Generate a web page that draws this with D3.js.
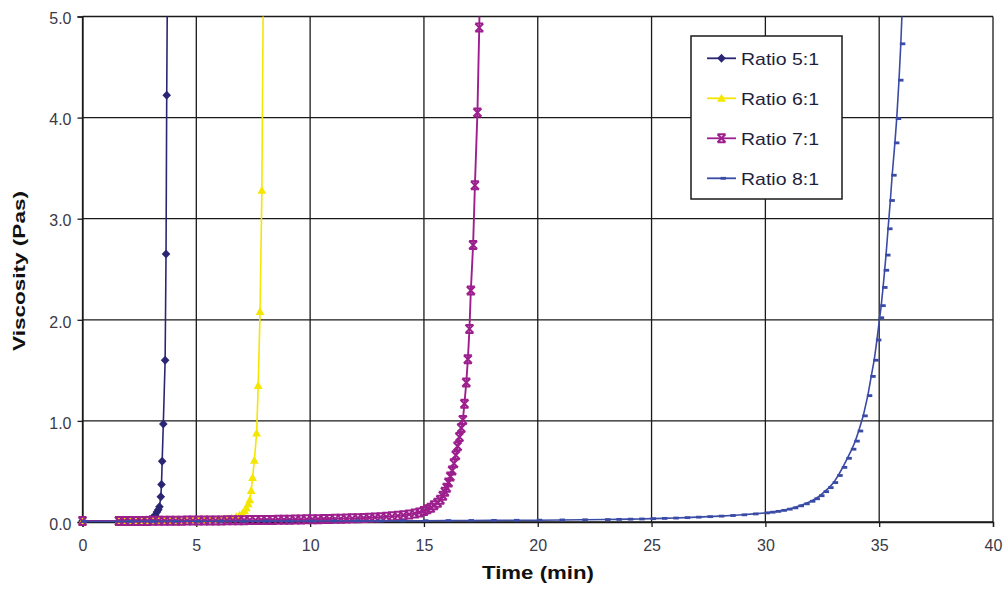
<!DOCTYPE html>
<html><head><meta charset="utf-8">
<script src="https://cdn.jsdelivr.net/npm/d3@7"></script>
<style>body{margin:0;background:#fff}svg{display:block}text{font-family:"Liberation Sans",Arial,sans-serif}</style>
</head><body><svg id="c" width="1003" height="589"></svg>
<script>
const seriesNames = ["Ratio 5:1","Ratio 6:1","Ratio 7:1","Ratio 8:1"];
const xTicks = [0,5,10,15,20,25,30,35,40];
const yTicks = [0,1,2,3,4,5];

const time51 = [0,1.6,1.75,1.9,2.05,2.2,2.35,2.5,2.65,2.8,2.95,3.05,3.13,3.20,3.27,3.33,3.38,3.44,3.47,3.50,3.55,3.63,3.67,3.70,3.76];
const visc51 = [0.01,0.01,0.01,0.011,0.012,0.013,0.014,0.015,0.017,0.02,0.025,0.035,0.05,0.07,0.10,0.12,0.15,0.25,0.37,0.60,0.97,1.60,2.65,4.22,6.40];

const time61 = [0,1.6,1.85,2.1,2.35,2.6,2.85,3.1,3.35,3.6,3.85,4.1,4.35,4.6,4.85,5.1,5.35,5.6,5.85,6.1,6.35,6.55,6.75,6.9,7.02,7.12,7.2,7.28,7.35,7.41,7.47,7.55,7.65,7.72,7.80,7.88,7.95];
const visc61 = [0.01,0.01,0.01,0.011,0.011,0.012,0.012,0.013,0.013,0.014,0.015,0.015,0.016,0.017,0.018,0.019,0.02,0.022,0.025,0.028,0.032,0.038,0.05,0.065,0.085,0.11,0.14,0.18,0.22,0.31,0.44,0.61,0.88,1.35,2.08,3.28,5.5];

const time71 = [0,1.6,1.85,2.1,2.35,2.6,2.85,3.1,3.35,3.6,3.85,4.1,4.35,4.6,4.85,5.1,5.35,5.6,5.85,6.1,6.35,6.6,6.85,7.1,7.35,7.6,7.85,8.1,8.35,8.6,8.85,9.1,9.35,9.6,9.85,10.1,10.35,10.6,10.85,11.1,11.35,11.6,11.85,12.1,12.35,12.6,12.85,13.1,13.35,13.6,13.85,14.1,14.35,14.6,14.8,15.0,15.15,15.3,15.45,15.6,15.72,15.83,15.92,16.0,16.08,16.16,16.24,16.32,16.4,16.48,16.56,16.64,16.71,16.78,16.86,16.93,17.0,17.06,17.16,17.24,17.35,17.43,17.5];
const visc71 = [0.01,0.010,0.010,0.010,0.011,0.011,0.011,0.012,0.012,0.012,0.013,0.013,0.013,0.014,0.014,0.014,0.015,0.015,0.016,0.016,0.017,0.017,0.018,0.018,0.019,0.019,0.020,0.020,0.021,0.022,0.022,0.023,0.024,0.025,0.026,0.027,0.028,0.029,0.030,0.031,0.033,0.034,0.036,0.038,0.040,0.042,0.045,0.048,0.052,0.056,0.061,0.067,0.075,0.085,0.095,0.11,0.125,0.14,0.165,0.19,0.22,0.26,0.30,0.34,0.39,0.45,0.51,0.58,0.66,0.75,0.84,0.93,1.01,1.17,1.38,1.61,1.91,2.29,2.74,3.33,4.05,4.89,5.9];

const time81 = [0,2,3,4,5,6,7,8,9,10,11,12,13,14,15,16,17,18,19,20,21,22,23,23.5,24,24.5,25,25.5,26,26.5,27,27.5,28,28.5,29,29.5,30,30.25,30.5,30.75,31,31.25,31.5,31.75,32,32.2,32.4,32.6,32.8,33,33.2,33.4,33.6,33.8,33.95,34.1,34.3,34.5,34.65,34.78,34.9,35.02,35.09,35.17,35.24,35.3,35.39,35.49,35.57,35.69,35.77,35.87,35.95,36.05];
const visc81 = [0.005,0.006,0.006,0.007,0.007,0.008,0.008,0.009,0.009,0.01,0.01,0.011,0.011,0.012,0.013,0.014,0.015,0.016,0.017,0.018,0.02,0.022,0.024,0.026,0.028,0.03,0.033,0.036,0.039,0.043,0.048,0.053,0.058,0.064,0.071,0.08,0.09,0.097,0.105,0.115,0.127,0.14,0.16,0.18,0.205,0.23,0.26,0.3,0.34,0.39,0.46,0.54,0.63,0.72,0.8,0.9,1.05,1.25,1.44,1.6,1.8,2.02,2.14,2.32,2.49,2.64,2.9,3.18,3.43,3.75,3.99,4.37,4.73,5.3];

const colors = ["#2b2674","#f5e600","#9c1f8d","#3a4ba6"];
const markers = ["diamond","triangle","star","dash"];

const svg = d3.select("#c");
const x = d3.scaleLinear([0,40],[82.5,993]);
const y = d3.scaleLinear([0,5],[522,16.5]);

// grid
const grid = svg.append("g").attr("stroke","#1a1a1a").attr("stroke-width",1.3);
grid.selectAll(".gx").data(xTicks).join("line")
  .attr("x1",d=>x(d)).attr("x2",d=>x(d)).attr("y1",y(5)).attr("y2",y(0));
grid.selectAll(".gy").data(yTicks).join("line")
  .attr("y1",d=>y(d)).attr("y2",d=>y(d)).attr("x1",x(0)).attr("x2",x(40));

// axes
const yAxis = svg.append("g").attr("transform",`translate(${x(0)},0)`)
  .call(d3.axisLeft(y).tickValues(yTicks).tickFormat(d3.format(".1f")).tickSize(5).tickPadding(6));
const xAxis = svg.append("g").attr("transform",`translate(0,${y(0)})`)
  .call(d3.axisBottom(x).tickValues(xTicks).tickFormat(d3.format("d")).tickSize(5).tickPadding(13));
[yAxis,xAxis].forEach(a=>{
  a.select(".domain").attr("stroke","#1a1a1a").attr("stroke-width",1.3);
  a.selectAll(".tick line").attr("stroke","#1a1a1a").attr("stroke-width",1.3);
  a.selectAll(".tick text").attr("fill","#3a3a48").attr("font-size",16).attr("font-family","Liberation Sans, Arial, sans-serif");
});
yAxis.selectAll(".tick text").attr("dy","0.45em");

// clip
svg.append("defs").append("clipPath").attr("id","pc").append("rect")
  .attr("x",x(0)-8).attr("y",y(5)).attr("width",x(40)-x(0)+16).attr("height",y(0)-y(5)+20);

function markerPath(sel, type, color){
  if(type==="diamond") sel.append("path").attr("d","M0,-4.5L4.3,0L0,4.5L-4.3,0Z").attr("fill",color);
  else if(type==="triangle") sel.append("path").attr("d","M0,-4.6L4.4,3.4L-4.4,3.4Z").attr("fill",color);
  else if(type==="star") sel.append("path").attr("d","M-4,-4L4,-4M-4,4L4,4M-4,-4L4,4M4,-4L-4,4").attr("stroke",color).attr("stroke-width",2).attr("fill","none");
  else sel.append("rect").attr("x",-1).attr("y",-1.4).attr("width",5.5).attr("height",2.8).attr("fill",color);
}

const allT = [time51,time61,time71,time81];
const allV = [visc51,visc61,visc71,visc81];
const widths = [1.6,1.6,1.9,1.6];
const plot = svg.append("g").attr("clip-path","url(#pc)");
const line = d3.line().x(d=>x(d[0])).y(d=>y(d[1]));
seriesNames.forEach((name,i)=>{
  const pts = allT[i].map((t,j)=>[t,allV[i][j]]);
  const g = plot.append("g");
  g.append("path").datum(pts).attr("d",line).attr("fill","none").attr("stroke",colors[i]).attr("stroke-width",widths[i]);
  g.selectAll("g.m").data(pts).join("g").attr("class","m")
    .attr("transform",d=>`translate(${x(d[0])},${y(d[1])})`)
    .each(function(){ markerPath(d3.select(this), markers[i], colors[i]); });
});

// legend
const lg = svg.append("g");
lg.append("rect").attr("x",691).attr("y",36).attr("width",151).attr("height",163)
  .attr("fill","#fff").attr("stroke","#1a1a1a").attr("stroke-width",1.5);
seriesNames.forEach((name,i)=>{
  const yy = 58.3 + i*40;
  lg.append("line").attr("x1",707).attr("x2",736).attr("y1",yy).attr("y2",yy).attr("stroke",colors[i]).attr("stroke-width",1.8);
  const m = lg.append("g").attr("transform",`translate(721.5,${yy})`);
  markerPath(m, markers[i], colors[i]);
  lg.append("text").attr("x",741).attr("y",yy+6.2).attr("font-size",17).attr("fill","#1e1e3a")
    .attr("textLength",78).attr("lengthAdjust","spacingAndGlyphs").text(name);
});

// axis titles
svg.append("text").attr("x",538).attr("y",578.5).attr("text-anchor","middle")
  .attr("font-weight","bold").attr("font-size",19).attr("fill","#111")
  .attr("textLength",112).attr("lengthAdjust","spacingAndGlyphs").text("Time (min)");
svg.append("text").attr("transform","translate(25,271) rotate(-90)").attr("text-anchor","middle")
  .attr("font-weight","bold").attr("font-size",17).attr("fill","#111")
  .attr("textLength",160).attr("lengthAdjust","spacingAndGlyphs").text("Viscosity (Pas)");
</script></body></html>
